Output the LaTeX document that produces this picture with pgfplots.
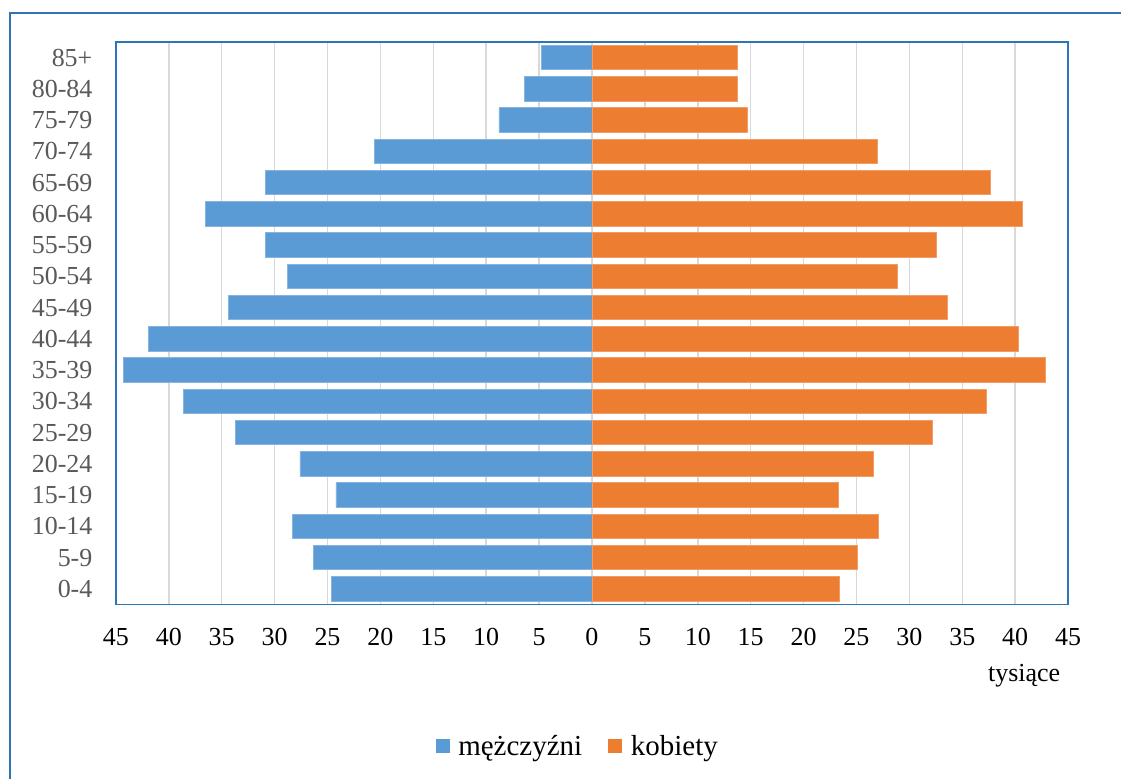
\documentclass[border=0pt]{standalone}
\usepackage{fontspec}
\setmainfont{Liberation Serif}
\usepackage{pgfplots}
\pgfplotsset{compat=1.18}
\definecolor{male}{HTML}{5B9BD5}
\definecolor{female}{HTML}{ED7D31}
\definecolor{frameblue}{HTML}{2E75B6}
\definecolor{gridgray}{HTML}{D9D9D9}
\definecolor{labgray}{HTML}{595959}
\pgfplotstableread{
idx male female
0 -24.6 23.4
1 -26.3 25.1
2 -28.3 27.1
3 -24.2 23.3
4 -27.6 26.6
5 -33.7 32.2
6 -38.6 37.3
7 -44.3 42.9
8 -41.9 40.3
9 -34.4 33.6
10 -28.8 28.9
11 -30.9 32.6
12 -36.5 40.7
13 -30.9 37.7
14 -20.6 27.0
15 -8.8 14.7
16 -6.4 13.7
17 -4.8 13.7
}\pyramid
\begin{document}
\begin{tikzpicture}
\path (0pt,0pt) rectangle (1122pt,780pt);
\draw[frameblue, line width=2pt] (1122pt,767pt) -- (10pt,767pt) -- (10pt,0pt);
\begin{axis}[
  at={(116pt,175pt)}, anchor=south west,
  scale only axis, width=953pt, height=563pt,
  xbar, bar width=24.5pt,
  xmin=-45, xmax=45, ymin=-0.5, ymax=17.5,
  xtick={-45,-40,...,45},
  xticklabel={\pgfmathparse{abs(\tick)}\pgfmathprintnumber[fixed,precision=0]{\pgfmathresult}},
  ytick={0,...,17},
  yticklabels={0-4,5-9,10-14,15-19,20-24,25-29,30-34,35-39,40-44,45-49,50-54,55-59,60-64,65-69,70-74,75-79,80-84,85+},
  axis line style={frameblue, line width=1.5pt},
  xmajorgrids, grid style={gridgray, line width=1.5pt},
  major tick length=0pt,
  tick label style={font=\fontsize{26}{30}\selectfont},
  yticklabel style={labgray, xshift=-20pt},
  xticklabel style={anchor=base, yshift=-41pt},
  /pgf/number format/assume math mode=true,
  legend style={at={(0.485,-0.252)}, anchor=center, draw=none, fill=none,
    legend columns=2, font=\fontsize{29}{33}\selectfont,
    /tikz/every even column/.append style={column sep=24pt}},
]
\addplot[fill=male, draw=male!75!white, line width=0.75pt, bar shift=0pt,
  legend image code/.code={\fill[male] (0pt,-6pt) rectangle (13pt,7pt); \path (20pt,0pt);}]
  table[x=male, y=idx] {\pyramid};
\addlegendentry{mężczyźni}
\addplot[fill=female, draw=female!75!white, line width=0.75pt, bar shift=0pt,
  legend image code/.code={\fill[female] (0pt,-6pt) rectangle (13pt,7pt); \path (20pt,0pt);}]
  table[x=female, y=idx] {\pyramid};
\addlegendentry{kobiety}
\end{axis}
\node[font=\fontsize{26}{30}\selectfont] at (1025pt,104pt) {tysiące};
\end{tikzpicture}
\end{document}
